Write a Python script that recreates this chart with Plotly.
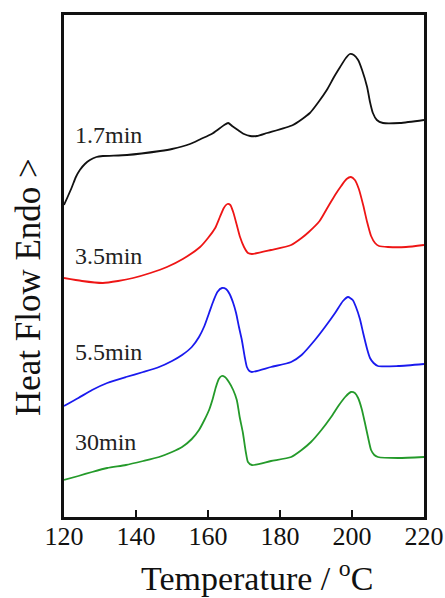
import plotly.graph_objects as go

# Temperatures (°C) and heat-flow values (arbitrary units, offset traces)
t_17 = [120.0, 121.0, 122.2, 123.3, 124.4, 125.8, 127.2, 129.0, 130.8, 137.5, 146.7, 150.0,
        155.0, 158.0, 161.0, 163.0, 164.5, 165.6, 166.7, 168.3, 170.0, 171.7, 173.6, 176.4,
        183.6, 188.3, 190.5, 193.0, 195.0, 196.7, 198.3, 199.4, 200.5, 201.7, 202.8, 204.2,
        205.0, 205.8, 206.9, 208.6, 213.3, 220.0]
hf_17 = [312, 320, 330, 340, 347, 353, 357, 360, 361, 362, 366, 368,
         373, 378, 383, 388, 392, 394, 391, 387, 383, 381, 381, 384,
         392, 404, 414, 427, 440, 450, 459, 463, 462, 457, 447, 430,
         415, 404, 397, 394, 394, 397]

t_35 = [120.0, 125.0, 130.8, 135.0, 139.2, 144.0, 148.6, 153.0, 157.8, 160.0, 162.0, 163.3,
        164.4, 165.4, 166.2, 167.0, 168.0, 168.9, 170.0, 171.1, 172.2, 177.5, 183.1, 186.0,
        188.0, 191.0, 193.3, 195.3, 197.0, 198.5, 199.7, 200.8, 201.9, 203.1, 204.2, 205.3,
        206.4, 207.5, 210.0, 215.0, 220.0]
hf_35 = [239, 236, 234, 236, 239, 244, 250, 258, 270, 279, 289, 300,
         309, 313, 312, 305, 292, 280, 270, 264, 263, 267, 272, 279,
         285, 296, 310, 322, 331, 338, 340, 337, 328, 312, 295, 281,
         274, 271, 270, 270, 272]

t_55 = [120.0, 124.0, 127.8, 132.0, 137.2, 142.0, 146.4, 150.0, 152.8, 155.5, 157.5, 159.0,
        160.3, 161.5, 162.6, 163.9, 165.0, 166.0, 167.0, 167.8, 168.6, 169.4, 170.2, 170.8,
        171.5, 172.2, 177.5, 183.1, 186.0, 189.7, 192.5, 195.3, 197.5, 198.9, 200.2, 201.1,
        202.2, 203.1, 204.2, 205.0, 206.0, 207.2, 212.8, 220.0]
hf_55 = [111, 119, 127, 134, 140, 145, 150, 156, 162, 170, 180, 191,
         204, 216, 225, 229, 228, 223, 214, 204, 190, 177, 160, 150,
         146, 145, 150, 155, 162, 177, 190, 204, 216, 220, 217, 210,
         198, 184, 168, 159, 154, 151, 151, 153]

t_30 = [120.0, 124.0, 127.8, 132.0, 137.2, 142.0, 146.4, 150.0, 152.8, 155.5, 157.5, 159.0,
        160.3, 161.3, 162.2, 163.0, 163.8, 164.7, 165.8, 167.0, 168.0, 168.8, 169.7, 170.5,
        171.1, 172.2, 177.5, 183.1, 186.0, 188.6, 191.5, 194.2, 196.4, 198.1, 199.7, 200.8,
        201.7, 202.7, 203.6, 204.5, 205.3, 206.2, 207.2, 212.8, 220.0]
hf_30 = [37, 41, 45, 49, 52, 56, 60, 65, 70, 78, 87, 97,
         107, 118, 130, 138, 141, 140, 135, 127, 117, 100, 84, 65,
         55, 52, 56, 60, 67, 75, 87, 100, 112, 120, 125, 124,
         119, 108, 94, 79, 67, 62, 60, 59, 60]

labels = ["1.7min", "3.5min", "5.5min", "30min"]
label_y = [382, 261, 165, 75]
colors = ["#111111", "#ee1515", "#1a1aee", "#249a2a"]

x_ticks = [120, 140, 160, 180, 200, 220]

FONT = "Liberation Serif"

fig = go.Figure()
for t, hf, c, name in zip([t_17, t_35, t_55, t_30], [hf_17, hf_35, hf_55, hf_30], colors, labels):
    fig.add_trace(go.Scatter(x=t, y=hf, mode="lines", name=name,
                             line=dict(color=c, width=1.8, shape="spline", smoothing=0.6),
                             showlegend=False))

for name, y in zip(labels, label_y):
    fig.add_annotation(x=122.5, y=y, xref="x", yref="y", text=name, showarrow=False,
                       xanchor="left", yanchor="middle",
                       font=dict(family=FONT, size=24, color="#222222"))

fig.add_annotation(x=0.536, y=-0.118, xref="paper", yref="paper",
                   text="Temperature / <sup>o</sup>C", showarrow=False,
                   xanchor="center", yanchor="middle",
                   font=dict(family=FONT, size=34, color="#111111"))
fig.add_annotation(x=-0.1, y=0.458, xref="paper", yref="paper",
                   text="Heat Flow Endo &gt;", showarrow=False, textangle=-90,
                   xanchor="center", yanchor="middle",
                   font=dict(family=FONT, size=35, color="#111111"))

fig.update_layout(
    width=445, height=598,
    margin=dict(l=64, r=21, t=15, b=81),
    plot_bgcolor="white", paper_bgcolor="white",
    font=dict(family=FONT, color="#111111"),
)
fig.update_xaxes(range=[120, 220], tickvals=x_ticks, ticks="inside", ticklen=7, tickwidth=2,
                 tickcolor="#111111", showline=True, linewidth=2.5, linecolor="#111111",
                 mirror=True, showgrid=False, zeroline=False, automargin=False,
                 ticklabelstandoff=-6,
                 tickfont=dict(family=FONT, size=26, color="#111111"))
fig.update_yaxes(range=[0, 502], showticklabels=False, ticks="", showline=True, linewidth=2.5,
                 linecolor="#111111", mirror=True, showgrid=False, zeroline=False,
                 automargin=False)

fig.write_html("out.html")
